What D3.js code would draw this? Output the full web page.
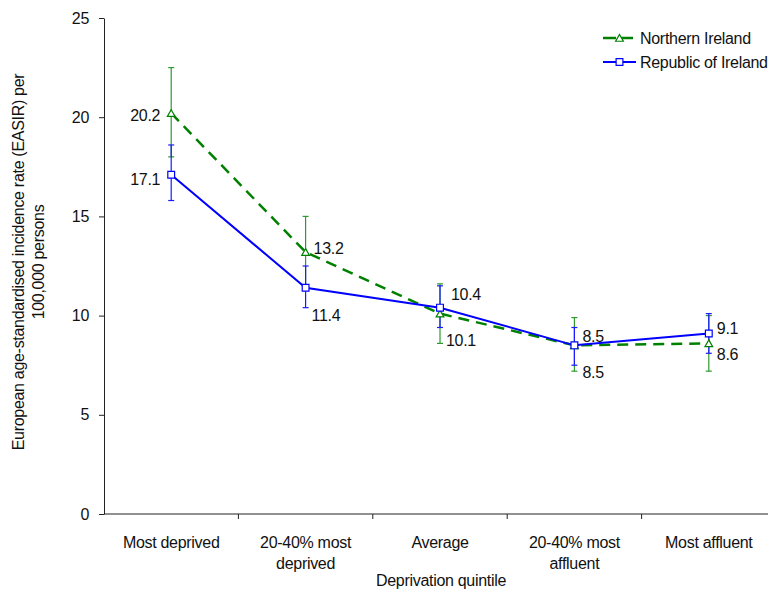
<!DOCTYPE html>
<html>
<head>
<meta charset="utf-8">
<script src="https://cdn.jsdelivr.net/npm/d3@7"></script>
<style>
  body { margin: 0; background: #fff; }
  svg { font-family: "Liberation Sans", Arial, sans-serif; }
  text { fill: #111; letter-spacing: -0.3px; }
</style>
</head>
<body>
<div id="chart"></div>
<script>
const svgWidth = 768,
      svgHeight = 590,
      margin = {top: 18, right: -8, bottom: 76, left: 104},
      width = svgWidth - margin.left - margin.right,
      height = svgHeight - margin.top - margin.bottom,
      fontSize = "16px";

// data
const categories = ["Most deprived", "20-40% most deprived", "Average", "20-40% most affluent", "Most affluent"];
const tickLines = [["Most deprived"], ["20-40% most", "deprived"], ["Average"], ["20-40% most", "affluent"], ["Most affluent"]];
const niValues = [20.2, 13.2, 10.1, 8.5, 8.6];
const niLower  = [18.0, 11.5, 8.6, 7.2, 7.2];
const niUpper  = [22.5, 15.0, 11.6, 9.9, 10.0];
const roiValues = [17.1, 11.4, 10.4, 8.5, 9.1];
const roiLower  = [15.8, 10.4, 9.4, 7.5, 8.1];
const roiUpper  = [18.6, 12.5, 11.5, 9.4, 10.1];
const yTicks = [0, 5, 10, 15, 20, 25];

// where the value labels sit relative to their point (dx, dy, anchor)
const niLabelPos  = [[-11, 2, "end"], [8, -4, "start"], [6, 27, "start"], [8, -9, "start"], [8, 11, "start"]];
const roiLabelPos = [[-11, 5, "end"], [6, 28, "start"], [11, -13, "start"], [8, 27, "start"], [8, -5, "start"]];

const scaleX = d3.scaleBand().domain(categories).range([0, width]);
const scaleY = d3.scaleLinear().domain([0, 25]).range([height, 0]);
const cx = d => scaleX(d) + scaleX.bandwidth() / 2;

let svg = d3.select("#chart")
  .append("svg")
  .attr("width", svgWidth)
  .attr("height", svgHeight);

let g = svg.append("g")
  .attr("transform", "translate(" + margin.left + "," + margin.top + ")");

// y axis
let yAxis = g.append("g")
  .call(d3.axisLeft(scaleY).tickValues(yTicks).tickSize(5).tickPadding(10).tickSizeOuter(0));
yAxis.select(".domain").attr("stroke", "#222");
yAxis.selectAll(".tick line").attr("stroke", "#222");
yAxis.selectAll(".tick text").style("font-size", fontSize).style("font-family", null).attr("fill", "#111");

// x axis: ticks on the band boundaries, labels in the middle
let xAxis = g.append("g").attr("transform", "translate(0," + height + ")");
xAxis.append("line")
  .attr("x1", 0).attr("x2", width)
  .attr("stroke", "#222");
xAxis.selectAll("line.bound")
  .data(categories.slice(1))
  .enter().append("line")
  .attr("class", "bound")
  .attr("x1", d => scaleX(d)).attr("x2", d => scaleX(d))
  .attr("y1", 0).attr("y2", 5)
  .attr("stroke", "#222");
xAxis.selectAll("text.cat")
  .data(categories)
  .enter().append("text")
  .attr("class", "cat")
  .attr("x", d => cx(d))
  .attr("y", 34)
  .style("font-size", fontSize)
  .style("text-anchor", "middle")
  .each(function(d, i) {
    d3.select(this).selectAll("tspan")
      .data(tickLines[i])
      .enter().append("tspan")
      .attr("x", cx(d))
      .attr("dy", (t, j) => j === 0 ? 0 : 21)
      .text(t => t);
  });

// axis titles
svg.append("text")
  .attr("x", margin.left + 337)
  .attr("y", 586)
  .style("font-size", fontSize)
  .style("text-anchor", "middle")
  .text("Deprivation quintile");

let yTitle = svg.append("text")
  .attr("transform", "translate(24," + (margin.top + height / 2 - 4) + ")rotate(-90)")
  .style("font-size", fontSize)
  .style("text-anchor", "middle");
yTitle.append("tspan").attr("x", 0).attr("dy", 0).text("European age-standardised incidence rate (EASIR) per");
yTitle.append("tspan").attr("x", 0).attr("dy", 20).text("100,000 persons");

// error bars
function errorBars(lower, upper, color, w) {
  let eb = g.append("g");
  categories.forEach((c, i) => {
    const x = cx(c);
    eb.append("line").attr("x1", x).attr("x2", x)
      .attr("y1", scaleY(lower[i])).attr("y2", scaleY(upper[i]))
      .attr("stroke", color).attr("stroke-width", w);
    [lower[i], upper[i]].forEach(v => {
      eb.append("line").attr("x1", x - 3).attr("x2", x + 3)
        .attr("y1", scaleY(v)).attr("y2", scaleY(v))
        .attr("stroke", color).attr("stroke-width", w);
    });
  });
}
errorBars(niLower, niUpper, "#2e9b2e", 1.2);
errorBars(roiLower, roiUpper, "#1a1aff", 1.2);

const line = d3.line().x((d, i) => cx(categories[i])).y(d => scaleY(d));

g.append("path")
  .datum(niValues)
  .attr("d", line)
  .attr("fill", "none")
  .attr("stroke", "#008000")
  .attr("stroke-width", 2.5)
  .attr("stroke-dasharray", "11,7");

g.append("path")
  .datum(roiValues)
  .attr("d", line)
  .attr("fill", "none")
  .attr("stroke", "#0000ff")
  .attr("stroke-width", 2);

const tri = d3.symbol().type(d3.symbolTriangle).size(26);
const sq = d3.symbol().type(d3.symbolSquare).size(46);

g.selectAll("path.ni")
  .data(niValues)
  .enter().append("path")
  .attr("class", "ni")
  .attr("d", tri)
  .attr("transform", (d, i) => "translate(" + cx(categories[i]) + "," + (scaleY(d) + 1) + ")")
  .attr("fill", "#fff")
  .attr("stroke", "#008000")
  .attr("stroke-width", 1.2);

g.selectAll("path.roi")
  .data(roiValues)
  .enter().append("path")
  .attr("class", "roi")
  .attr("d", sq)
  .attr("transform", (d, i) => "translate(" + cx(categories[i]) + "," + scaleY(d) + ")")
  .attr("fill", "#fff")
  .attr("stroke", "#0000ff")
  .attr("stroke-width", 1.2);

// value labels
function valueLabels(values, pos) {
  g.selectAll(null)
    .data(values)
    .enter().append("text")
    .attr("x", (d, i) => cx(categories[i]) + pos[i][0])
    .attr("y", (d, i) => scaleY(d) + pos[i][1])
    .attr("dy", "0.35em")
    .style("font-size", fontSize)
    .style("text-anchor", (d, i) => pos[i][2])
    .text(d => d3.format(".1f")(d));
}
valueLabels(niValues, niLabelPos);
valueLabels(roiValues, roiLabelPos);

// legend
const legend = svg.append("g").attr("transform", "translate(603,38)");
const legendItems = [
  {name: "Northern Ireland", color: "#008000", dash: "13,4", sym: tri, w: 2.5},
  {name: "Republic of Ireland", color: "#0000ff", dash: null, sym: sq, w: 2}
];
legendItems.forEach((it, i) => {
  const row = legend.append("g").attr("transform", "translate(0," + (i * 24) + ")");
  row.append("line").attr("x1", 0).attr("x2", 33)
    .attr("stroke", it.color).attr("stroke-width", it.w)
    .attr("stroke-dasharray", it.dash);
  row.append("path").attr("d", it.sym)
    .attr("transform", "translate(16.5," + (i === 0 ? 1 : 0) + ")")
    .attr("fill", "#fff").attr("stroke", it.color).attr("stroke-width", 1.2);
  row.append("text").attr("x", 37).attr("dy", "0.35em")
    .style("font-size", fontSize).text(it.name);
});
</script>
</body>
</html>
